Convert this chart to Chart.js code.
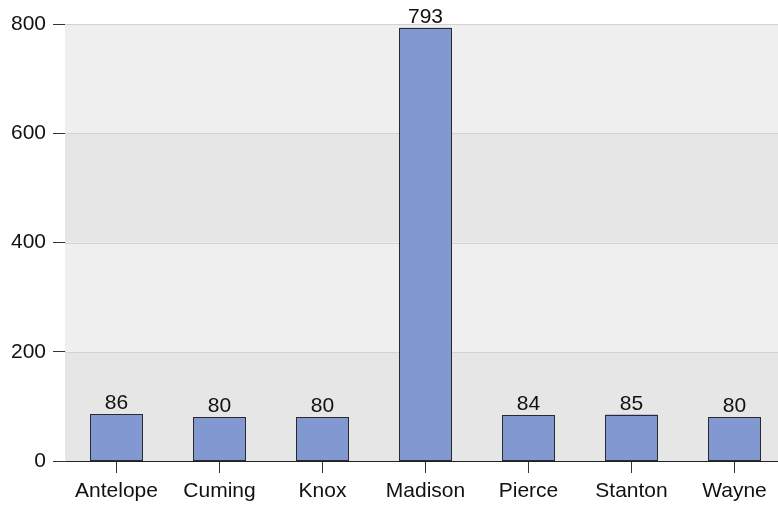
<!DOCTYPE html>
<html><head><meta charset="utf-8">
<script src="https://cdn.jsdelivr.net/npm/chart.js@4/dist/chart.umd.min.js"></script>
<style>
html,body{margin:0;padding:0;overflow:hidden;background:#fff;}
#wrap{position:relative;width:786px;height:506px;}
</style></head>
<body>
<div id="wrap"><canvas id="c"></canvas></div>
<script>
const categories = ["Antelope","Cuming","Knox","Madison","Pierce","Stanton","Wayne"];
const values = [86, 80, 80, 793, 84, 85, 80];
const yTicks = [0, 200, 400, 600, 800];

const FONT = '"Liberation Sans", Arial, sans-serif';

const bandPlugin = {
  id: 'bands',
  beforeDatasetsDraw(chart) {
    const {ctx, chartArea: a, scales: {y}} = chart;
    ctx.save();
    for (let i = 0; i < yTicks.length - 1; i++) {
      const y0 = y.getPixelForValue(yTicks[i]);
      const y1 = y.getPixelForValue(yTicks[i+1]);
      ctx.fillStyle = (i % 2 === 0) ? '#e6e6e6' : '#efefef';
      ctx.fillRect(a.left, y1, a.right - a.left, y0 - y1);
    }
    ctx.strokeStyle = '#d2d2d2';
    ctx.lineWidth = 1;
    for (let i = 1; i < yTicks.length; i++) {
      const yy = Math.round(y.getPixelForValue(yTicks[i])) + 0.5;
      ctx.beginPath(); ctx.moveTo(a.left, yy); ctx.lineTo(a.right, yy); ctx.stroke();
    }
    ctx.restore();
  },
  afterDatasetsDraw(chart) {
    const {ctx} = chart;
    const meta = chart.getDatasetMeta(0);
    ctx.save();
    ctx.strokeStyle = '#2a2a2a';
    ctx.lineWidth = 1;
    meta.data.forEach((bar) => {
      const l = Math.round(bar.x - bar.width / 2) + 0.5;
      const r = Math.round(bar.x + bar.width / 2) - 0.5;
      const t = Math.round(bar.y) + 0.5;
      const b = Math.round(bar.base) - 0.5;
      ctx.strokeRect(l, t, r - l, b - t);
    });
    ctx.fillStyle = '#111';
    ctx.font = '21px ' + FONT;
    ctx.textAlign = 'center';
    ctx.textBaseline = 'alphabetic';
    meta.data.forEach((bar, i) => {
      ctx.fillText(String(values[i]), bar.x, bar.y - 5);
    });
    ctx.restore();
  }
};

new Chart(document.getElementById('c'), {
  type: 'bar',
  data: {
    labels: categories,
    datasets: [{
      data: values,
      backgroundColor: '#8199d0',
      borderWidth: 0,
      barPercentage: 0.505,
      categoryPercentage: 1.0
    }]
  },
  options: {
    responsive: true,
    maintainAspectRatio: false,
    animation: false,
    devicePixelRatio: 1,
    layout: {padding: {top: 24, left: 0, right: 0, bottom: 0}},
    plugins: {legend: {display: false}, tooltip: {enabled: false}},
    scales: {
      x: {
        afterFit(axis) { axis.height = 45; axis.paddingLeft = 0; axis.paddingRight = 0; },
        grid: {drawOnChartArea: false, offset: false, tickLength: 12, color: '#333'},
        border: {color: '#222', width: 1},
        ticks: {color: '#111', font: {family: FONT, size: 21}, padding: 6}
      },
      y: {
        min: 0, max: 800,
        afterBuildTicks(axis) { axis.ticks = yTicks.map(v => ({value: v})); },
        afterFit(axis) { axis.width = 65; axis.paddingTop = 0; axis.paddingBottom = 0; },
        grid: {drawOnChartArea: false, tickLength: 12, color: '#333'},
        border: {color: '#555', width: 1},
        ticks: {color: '#111', font: {family: FONT, size: 21}, padding: 7}
      }
    }
  },
  plugins: [bandPlugin]
});
</script>
</body></html>
